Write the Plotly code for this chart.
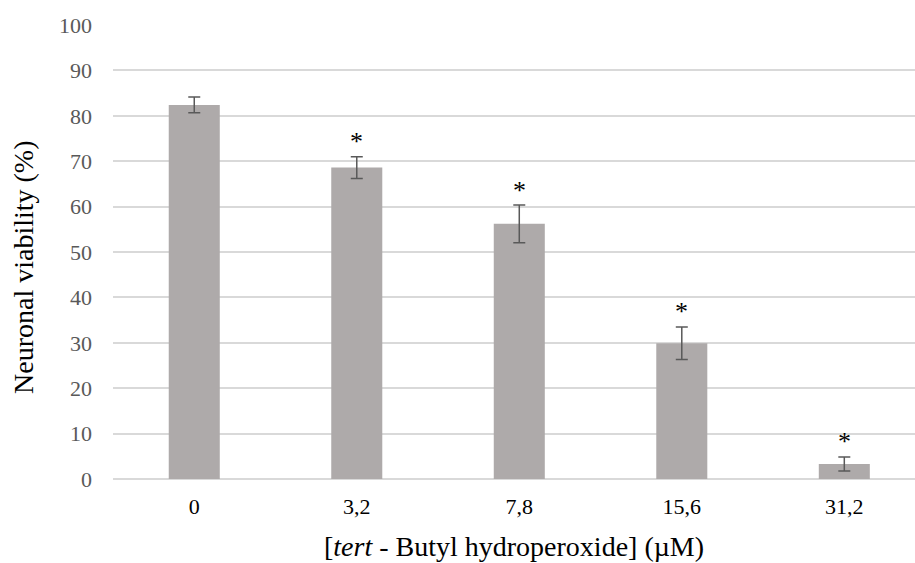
import plotly.graph_objects as go

categories = ["0", "3,2", "7,8", "15,6", "31,2"]
viability = [82.4, 68.6, 56.2, 29.9, 3.3]
errors = [1.75, 2.4, 4.15, 3.6, 1.55]
significant = [False, True, True, True, True]
y_ticks = [0, 10, 20, 30, 40, 50, 60, 70, 80, 90, 100]

FONT = "Liberation Serif"

fig = go.Figure()
fig.add_trace(go.Bar(
    x=categories, y=viability,
    width=0.314,
    marker=dict(color="#AEAAAA", line=dict(width=0)),
    error_y=dict(type="data", array=errors, visible=True,
                 color="#595959", thickness=1.5, width=6),
))

for c, v, e, s in zip(categories, viability, errors, significant):
    if s:
        fig.add_annotation(x=c, y=v + e, text="*", showarrow=False,
                           yanchor="middle", yshift=15,
                           font=dict(family=FONT, size=26, color="#000000"))

fig.add_annotation(xref="paper", yref="paper", x=0.5, y=-67 / 454,
                   xanchor="center", yanchor="middle", showarrow=False,
                   text="[<i>tert</i> - Butyl hydroperoxide] (µM)",
                   font=dict(family=FONT, size=28, color="#000000"))
fig.add_annotation(xref="paper", yref="paper", x=(23 - 113) / 802, y=(479 - 268) / 454,
                   xanchor="center", yanchor="middle", showarrow=False, textangle=-90,
                   text="Neuronal viability (%)",
                   font=dict(family=FONT, size=28, color="#000000"))

fig.update_layout(
    width=915, height=563,
    margin=dict(l=113, r=0, t=25, b=84),
    paper_bgcolor="white", plot_bgcolor="white",
    showlegend=False,
    font=dict(family=FONT),
)
fig.update_xaxes(range=[-0.5, 4.435], showgrid=False, showline=False,
                 ticks="", tickfont=dict(family=FONT, size=22, color="#000000"),
                 ticklabelstandoff=12)
fig.update_yaxes(range=[0, 100], tickvals=y_ticks, showgrid=True,
                 gridcolor="#D9D9D9", gridwidth=1.5, zeroline=True,
                 zerolinecolor="#D9D9D9", zerolinewidth=1.5,
                 showline=False, ticks="",
                 tickfont=dict(family=FONT, size=22, color="#595959"),
                 ticklabelstandoff=20)

fig.write_html("out.html")
